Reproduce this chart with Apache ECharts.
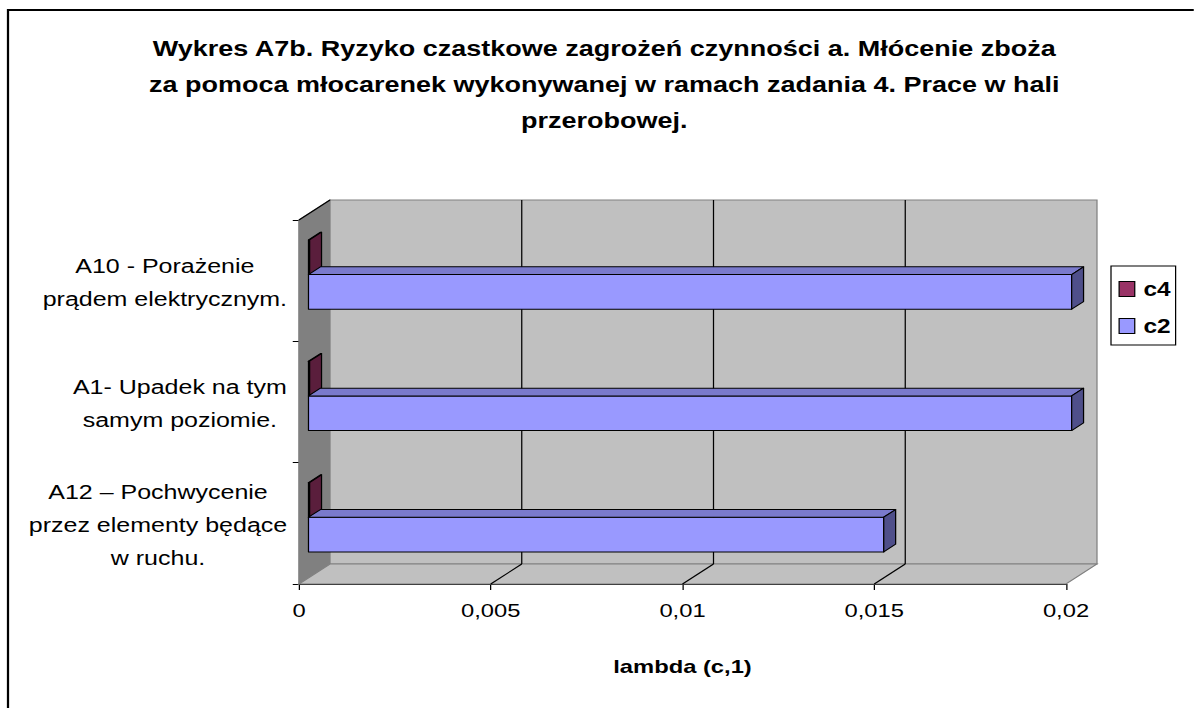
<!DOCTYPE html>
<html>
<head>
<meta charset="utf-8">
<script src="https://cdn.jsdelivr.net/npm/echarts@6/dist/echarts.min.js"></script>
<style>
  html, body { margin: 0; padding: 0; background: #ffffff; overflow: hidden; }
  #wrap { width: 1194px; height: 708px; overflow: hidden; position: relative; }
  /* the chart is laid out narrow and widened horizontally */
  #chart { width: 955.2px; height: 708px; transform: scaleX(1.25); transform-origin: 0 0; }
</style>
</head>
<body>
<div id="wrap"><div id="chart"></div></div>
<script>
// Hazard categories, bottom to top
const categories = [
  'A12 – Pochwycenie\nprzez elementy będące\nw ruchu.',
  'A1- Upadek na tym\nsamym poziomie.',
  'A10 - Porażenie\nprądem elektrycznym.'
];
// lambda values per series
const c2Values = [0.015, 0.0199, 0.0199];
const c4Values = [0.00003, 0.00003, 0.00003];
// x axis
const xMin = 0;
const xMax = 0.02;
const xStep = 0.005;
const xTickLabels = ['0', '0,005', '0,01', '0,015', '0,02'];

const SX = 1.25;                 // horizontal widening of the whole chart
const u = (x) => x / SX;         // page x -> layout x
const FONT = '"Liberation Sans", Arial, sans-serif';
const LABEL_SIZE = 20;
// oblique depth of the plot box
const DX = u(31), DY = -20;
// bars occupy this slice of the depth
const F1 = 0.306, F2 = 0.69;

// width of each wrapped category label block, so its lines can be centred inside it
const measureCtx = document.createElement('canvas').getContext('2d');
measureCtx.font = LABEL_SIZE + 'px ' + FONT;
const labelRich = {};
categories.forEach((c, i) => {
  const w = Math.max.apply(null, c.split('\n').map(s => measureCtx.measureText(s).width));
  labelRich['b' + i] = {
    width: Math.ceil(w) + 1, align: 'center',
    fontFamily: FONT, fontSize: LABEL_SIZE, color: '#000000', lineHeight: 33
  };
});

function barRenderer(front, topC, sideC, slot) {
  return function (params, api) {
    const v = api.value(0);
    const i = api.value(1);
    const base = api.coord([0, i]);
    const end = api.coord([v, i]);
    const band = api.size([0, 1])[1];
    const bw = band / 3.5;
    const top = base[1] - band / 2 + 0.75 * bw + slot * bw;
    const x0 = base[0] + F1 * DX;
    const x1 = end[0] + F1 * DX;
    const yT = top + F1 * DY;
    const yB = yT + bw;
    const ddx = (F2 - F1) * DX;
    const ddy = (F2 - F1) * DY;
    const stroke = { stroke: '#000000', lineWidth: 1, lineJoin: 'round' };
    return {
      type: 'group',
      children: [
        { type: 'polygon', shape: { points: [[x0, yT], [x1, yT], [x1, yB], [x0, yB]] },
          style: Object.assign({ fill: front }, stroke) },
        { type: 'polygon', shape: { points: [[x0, yT], [x1, yT], [x1 + ddx, yT + ddy], [x0 + ddx, yT + ddy]] },
          style: Object.assign({ fill: topC }, stroke) },
        { type: 'polygon', shape: { points: [[x1, yT], [x1 + ddx, yT + ddy], [x1 + ddx, yB + ddy], [x1, yB]] },
          style: Object.assign({ fill: sideC }, stroke) }
      ]
    };
  };
}

// side wall, back wall, floor and the gridlines on them
function wallRenderer(params, api) {
  const cs = params.coordSys;
  const L = cs.x, T = cs.y, R = cs.x + cs.width, B = cs.y + cs.height;
  const kids = [
    { type: 'polygon', shape: { points: [[L, T], [L + DX, T + DY], [L + DX, B + DY], [L, B]] },
      style: { fill: '#808080', stroke: '#808080', lineWidth: 1 } },
    { type: 'polygon', shape: { points: [[L + DX, T + DY], [R + DX, T + DY], [R + DX, B + DY], [L + DX, B + DY]] },
      style: { fill: '#C0C0C0', stroke: '#808080', lineWidth: 1 } },
    { type: 'polygon', shape: { points: [[L, B], [R, B], [R + DX, B + DY], [L + DX, B + DY]] },
      style: { fill: '#C0C0C0', stroke: '#808080', lineWidth: 1 } },
    { type: 'line', shape: { x1: L, y1: T, x2: L + DX, y2: T + DY },
      style: { stroke: '#000000', lineWidth: 1 } }
  ];
  for (let k = 1; k < xTickLabels.length - 1; k++) {
    const x = api.coord([xMin + k * xStep, 0])[0];
    kids.push({ type: 'line', shape: { x1: x + DX, y1: T + DY, x2: x + DX, y2: B + DY },
      style: { stroke: '#000000', lineWidth: 1 } });
    kids.push({ type: 'line', shape: { x1: x, y1: B, x2: x + DX, y2: B + DY },
      style: { stroke: '#000000', lineWidth: 1 } });
  }
  return { type: 'group', children: kids };
}

const chartW = 1194 / SX;
const chart = echarts.init(document.getElementById('chart'), null, { renderer: 'svg', width: chartW, height: 708 });
chart.setOption({
  animation: false,
  backgroundColor: '#ffffff',
  textStyle: { fontFamily: FONT },
  title: {
    text: 'Wykres A7b. Ryzyko czastkowe zagrożeń czynności a. Młócenie zboża\nza pomoca młocarenek wykonywanej w ramach zadania 4. Prace w hali\nprzerobowej.',
    left: u(598),
    top: 26,
    textAlign: 'center',
    textStyle: { fontFamily: FONT, fontSize: 21.6, fontWeight: 'bold', color: '#000000', lineHeight: 36 }
  },
  graphic: [{
    type: 'rect',
    shape: { x: u(8), y: 10, width: chartW, height: 720 },
    style: { fill: 'none', stroke: '#000000', lineWidth: 1.8 },
    silent: true,
    z: 100
  }],
  legend: {
    data: ['c4', 'c2'],
    orient: 'vertical',
    left: u(1111),
    top: 266,
    backgroundColor: '#ffffff',
    borderColor: '#000000',
    borderWidth: 1,
    borderRadius: 0,
    padding: [13, 4, 9, 6],
    itemGap: 17,
    itemWidth: 12.5,
    itemHeight: 15,
    icon: 'rect',
    itemStyle: { borderColor: '#000000', borderWidth: 1 },
    textStyle: { fontFamily: FONT, fontSize: 19.5, fontWeight: 'bold', color: '#000000', padding: [0, 0, 0, 2] }
  },
  grid: { left: u(299), right: chartW - u(1066), top: 220, bottom: 124 },
  xAxis: {
    type: 'value',
    min: xMin,
    max: xMax,
    interval: xStep,
    name: 'lambda (c,1)',
    nameLocation: 'middle',
    nameGap: 73,
    nameTextStyle: { fontFamily: FONT, fontSize: 19, fontWeight: 'bold', color: '#000000' },
    axisLine: { show: true, lineStyle: { color: '#000000', width: 1 } },
    axisTick: { show: true, length: 6, lineStyle: { color: '#000000' } },
    splitLine: { show: false },
    axisLabel: {
      margin: 17,
      fontFamily: FONT, fontSize: 19, color: '#000000',
      formatter: function (val) { return xTickLabels[Math.round((val - xMin) / xStep)]; }
    }
  },
  yAxis: {
    type: 'category',
    data: categories,
    axisLine: { show: true, lineStyle: { color: '#000000', width: 1 } },
    axisTick: { show: true, length: 5, lineStyle: { color: '#000000' } },
    splitLine: { show: false },
    axisLabel: {
      margin: u(299) - u(288),
      align: 'right',
      padding: [4, 0, 0, 0],
      fontFamily: FONT, fontSize: LABEL_SIZE, color: '#000000', lineHeight: 33,
      rich: labelRich,
      formatter: function (val) {
        const key = 'b' + categories.indexOf(val);
        return val.split('\n').map(s => '{' + key + '|' + s + '}').join('\n');
      }
    }
  },
  series: [
    {
      name: 'walls',
      type: 'custom',
      renderItem: wallRenderer,
      data: [[0, 0]],
      encode: { x: 0, y: 1 },
      silent: true,
      z: 1
    },
    {
      name: 'c4',
      type: 'custom',
      renderItem: barRenderer('#993366', '#7A2952', '#5A1E3C', 0),
      itemStyle: { color: '#993366' },
      data: c4Values.map((v, i) => [v, i]),
      encode: { x: 0, y: 1 },
      z: 3
    },
    {
      name: 'c2',
      type: 'custom',
      renderItem: barRenderer('#9999FF', '#7A7ACC', '#4F4F8A', 1),
      itemStyle: { color: '#9999FF' },
      data: c2Values.map((v, i) => [v, i]),
      encode: { x: 0, y: 1 },
      z: 4
    }
  ]
});
</script>
</body>
</html>
